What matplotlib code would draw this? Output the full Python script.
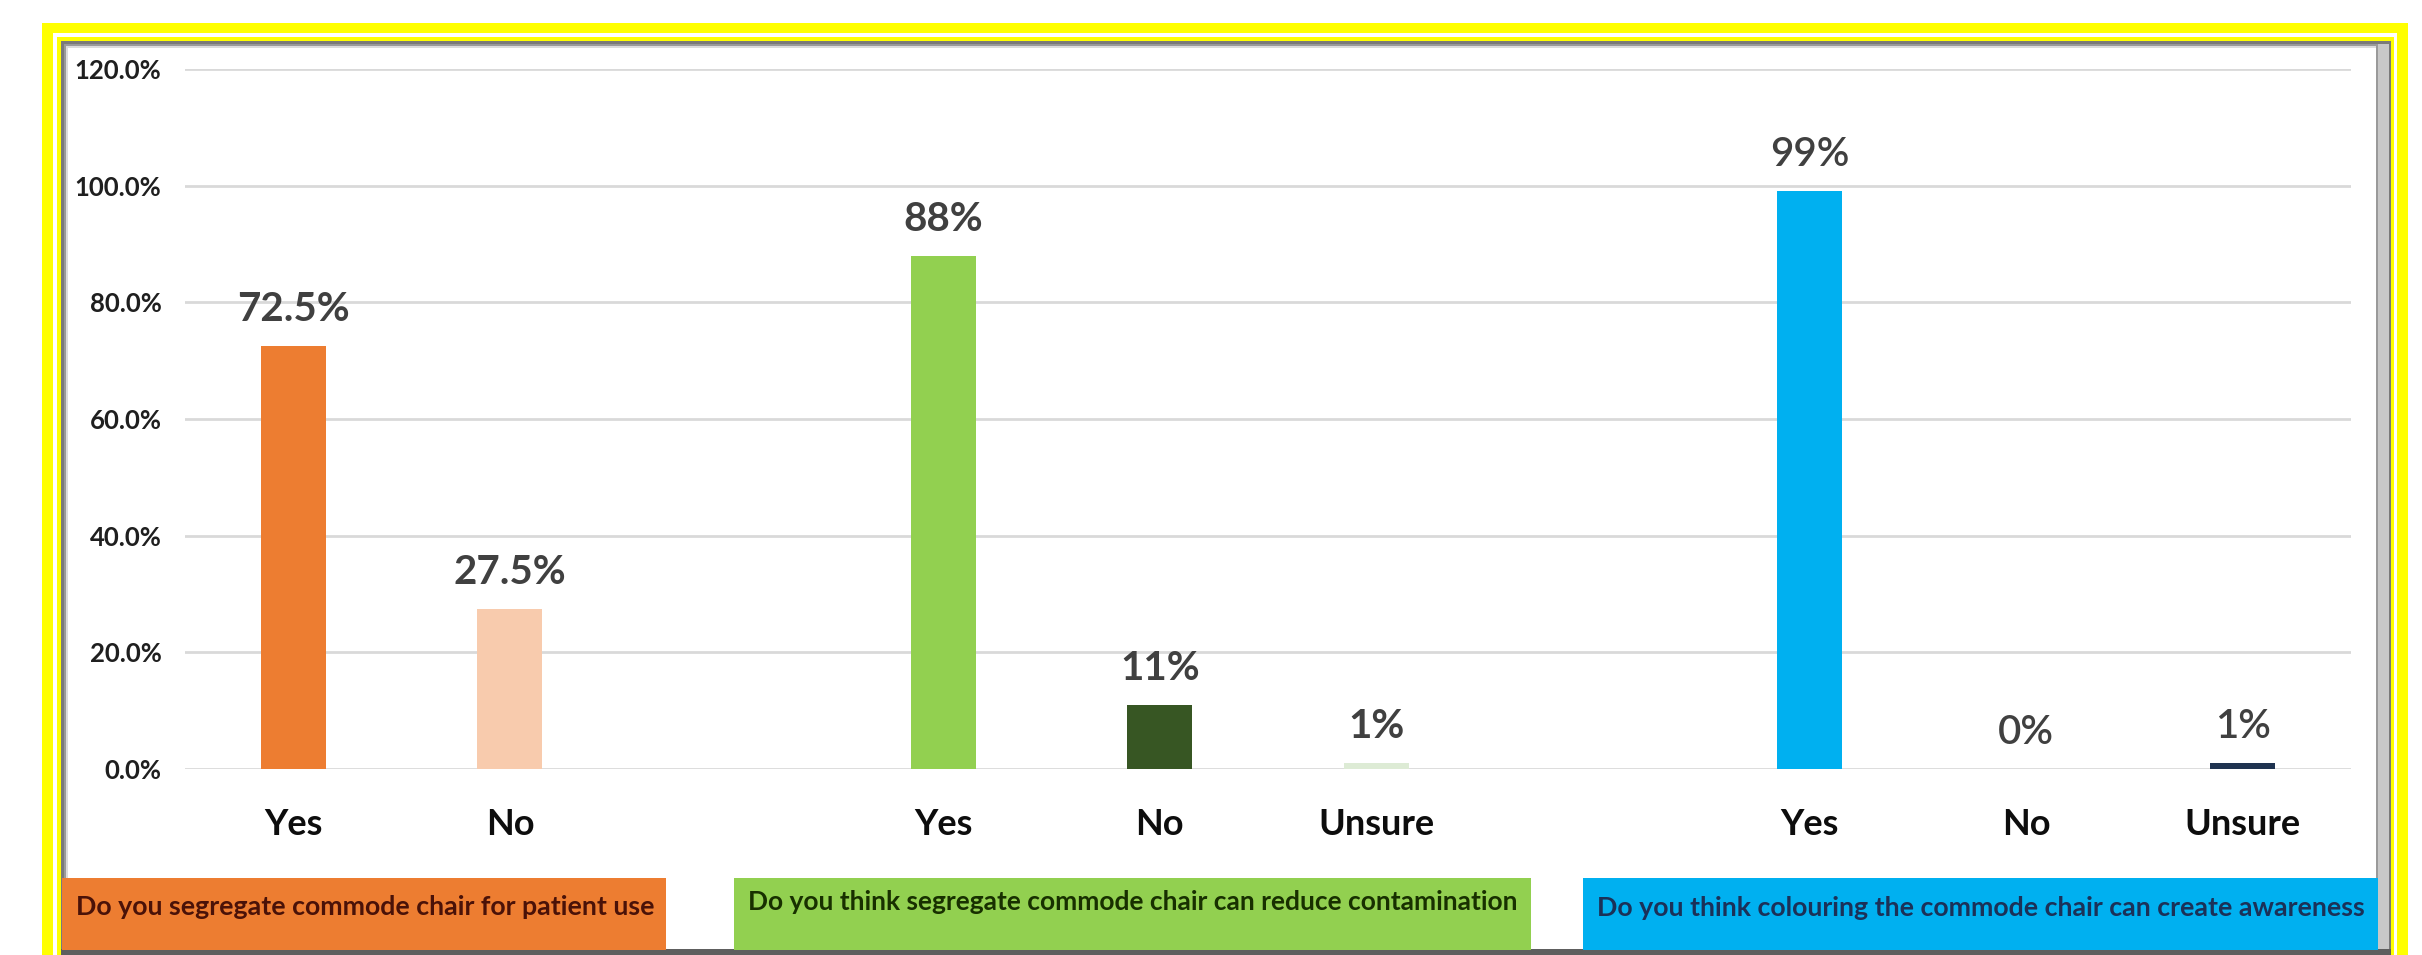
import matplotlib
matplotlib.use("Agg")
import matplotlib.pyplot as plt
from matplotlib.patches import Rectangle

plt.rcParams['font.family'] = ['Lato', 'DejaVu Sans']

# ---------------- data ----------------
categories = ["Yes", "No", "", "Yes", "No", "Unsure", "", "Yes", "No", "Unsure"]
values = [72.5, 27.5, None, 88, 11, 1, None, 99, 0, 1]
value_labels = ["72.5%", "27.5%", "", "88%", "11%", "1%", "", "99%", "0%", "1%"]
bar_colors = ["#ED7D31", "#F8CBAD", None, "#92D050", "#375623", "#DDEBD5",
              None, "#00B0F0", "#00B0F0", "#1F3350"]
label_weights = ["bold", "bold", None, "bold", "bold", "bold", None,
                 "semibold", "semibold", "semibold"]
yticks = [0, 20, 40, 60, 80, 100, 120]
ytick_labels = ["0.0%", "20.0%", "40.0%", "60.0%", "80.0%", "100.0%", "120.0%"]

questions = ["Do you segregate commode chair for patient use",
             "Do you think segregate commode chair can reduce contamination",
             "Do you think colouring the commode chair can create awareness"]
question_colors = ["#ED7D31", "#92D050", "#00B0F0"]
question_text_colors = ["#4A1208", "#183000", "#1B3158"]

# ---------------- figure ----------------
W, H = 2422, 955
fig = plt.figure(figsize=(W / 100, H / 100), dpi=100)
fig.patch.set_facecolor("white")

bg = fig.add_axes([0, 0, 1, 1], zorder=0)
bg.set_xlim(0, W)
bg.set_ylim(H, 0)
bg.axis("off")

def rect(x0, y0, x1, y1, color, z=0):
    bg.add_patch(Rectangle((x0, y0), x1 - x0, y1 - y0, facecolor=color,
                           edgecolor="none", zorder=z))

# yellow double border and grey framed panel
rect(42, 23, 2408, 960, "#FFFF00", 0)
rect(53, 33, 2397, 960, "white", 1)
rect(57, 37, 2394, 960, "#FFFF00", 2)
rect(61, 41, 2391, 960, "#7A7A7A", 3)
rect(64, 44, 2389, 960, "#C8C8C8", 4)
rect(64, 44, 2378, 950, "#9A9A9A", 5)
rect(66, 46, 2376, 950, "#DCDCDC", 6)
rect(68, 48, 2376, 950, "white", 7)
rect(61, 949, 2391, 960, "#5E5E5E", 8)

# question boxes
box_x = [(62, 666), (734, 1531), (1583, 2378)]
box_text_y = [907, 902, 908]
box_texts = []
for (x0, x1), q, c, tc, ty in zip(box_x, questions, question_colors,
                                   question_text_colors, box_text_y):
    rect(x0, 878, x1, 950, c, 9)
    t = bg.text(x0 + 14, ty, q, ha="left", va="center", fontsize=18,
                fontweight="bold", color=tc, zorder=10)
    box_texts.append((t, x1 - x0 - 24))

# ---------------- main axes ----------------
ax = fig.add_axes([185 / W, 1 - 769 / H, (2351 - 185) / W, 700 / H], zorder=1)
ax.patch.set_alpha(0)
ax.set_xlim(-0.5, len(categories) - 0.5)
ax.set_ylim(0, 120)

for i, (v, c) in enumerate(zip(values, bar_colors)):
    if v is None:
        continue
    ax.bar(i, v, width=0.3, color=c, zorder=3)
    ax.annotate(value_labels[i], (i, v), xytext=(0, 18),
                textcoords="offset points", ha="center", va="baseline",
                fontsize=29, color="#404040", fontweight=label_weights[i],
                zorder=4)

ax.set_yticks(yticks, ytick_labels)
ax.set_xticks(range(len(categories)), categories)
ax.yaxis.grid(True, color="#D9D9D9", linewidth=2)
ax.set_axisbelow(True)
for s in ax.spines.values():
    s.set_visible(False)
ax.tick_params(axis="both", length=0)
ax.tick_params(axis="y", pad=17, labelsize=18.5, labelcolor="#1F1F1F")
ax.tick_params(axis="x", pad=28, labelsize=26, labelcolor="#0D0D0D")
for lbl in ax.get_yticklabels():
    lbl.set_fontweight("bold")
for lbl in ax.get_xticklabels():
    lbl.set_fontweight("bold")

# fit question texts to their boxes
fig.canvas.draw()
r = fig.canvas.get_renderer()
for t, target in box_texts:
    w = t.get_window_extent(r).width
    t.set_fontsize(t.get_fontsize() * target / w)

fig.savefig("out.png", dpi=100, facecolor="white")
